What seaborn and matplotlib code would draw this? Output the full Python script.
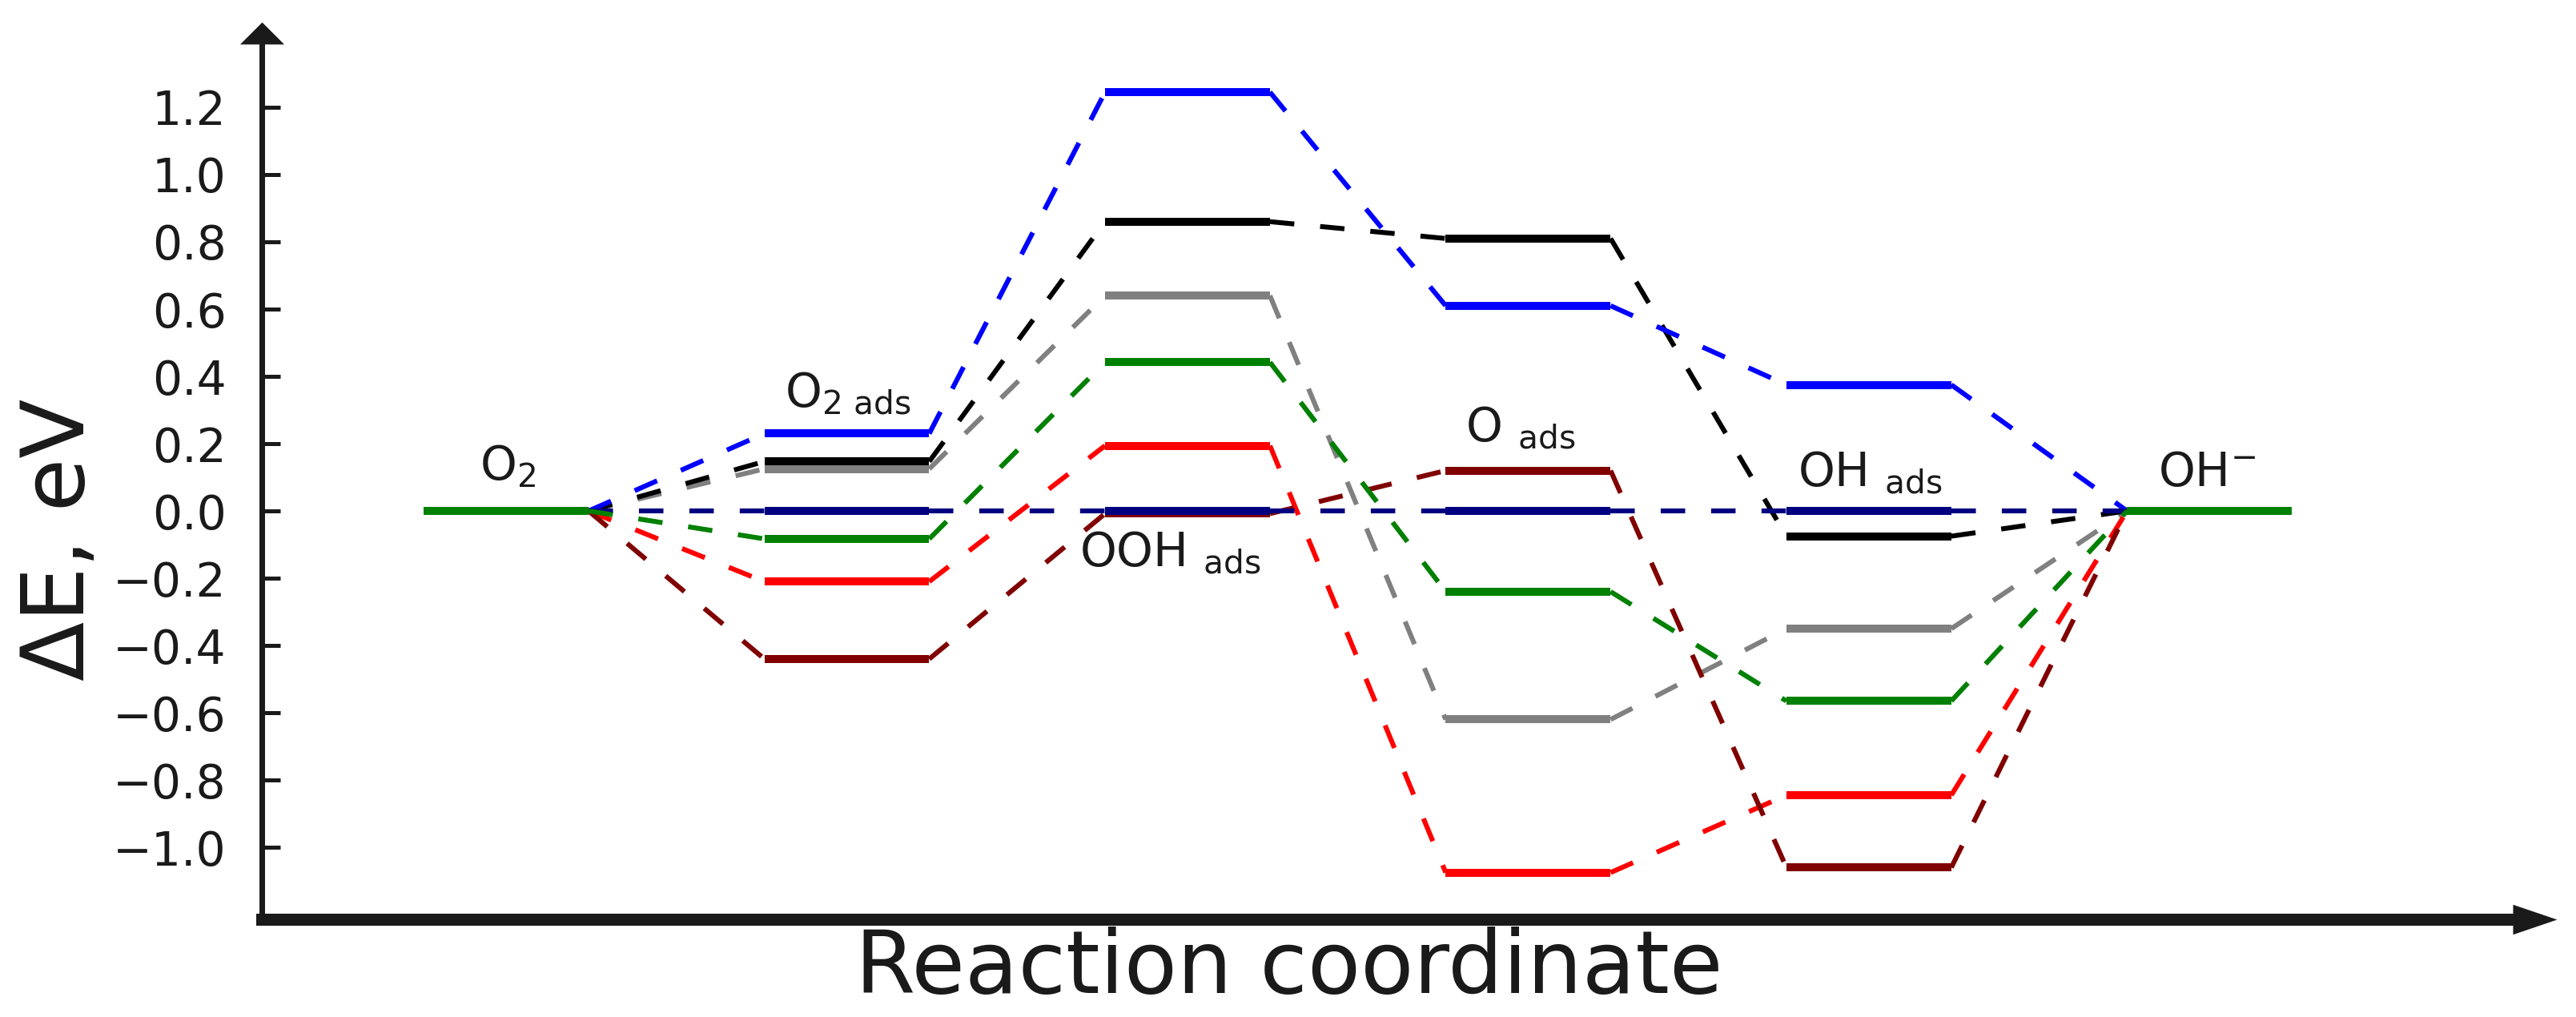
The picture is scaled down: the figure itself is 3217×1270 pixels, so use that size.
import pandas as pd
import seaborn as sns
import matplotlib.pyplot as plt

# Data: free energy of each intermediate for every surface (eV)
stage_labels = ["O$_2$", "O$_{2\\ ads}$", "OOH $_{ads}$", "O $_{ads}$", "OH $_{ads}$", "OH$^{-}$"]
energy_gray = [0, 0.125, 0.64, -0.62, -0.35, 0]
energy_black = [0, 0.147, 0.86, 0.81, -0.075, 0]
energy_blue = [0, 0.23, 1.245, 0.61, 0.375, 0]
energy_red = [0, -0.21, 0.194, -1.075, -0.845, 0]
energy_darkred = [0, -0.44, -0.008, 0.12, -1.06, 0]
energy_navy = [0, 0, 0, 0, 0, 0]
energy_green = [0, -0.083, 0.442, -0.24, -0.565, 0]
series_names = ["gray", "black", "blue", "red", "darkred", "navy", "green"]
line_colors = ["#808080", "#000000", "#0000ff", "#ff0000", "#800000", "#000080", "#008000"]
y_ticks = [-1.0, -0.8, -0.6, -0.4, -0.2, 0.0, 0.2, 0.4, 0.6, 0.8, 1.0, 1.2]

energies = dict(zip(series_names, [energy_gray, energy_black, energy_blue, energy_red,
                                   energy_darkred, energy_navy, energy_green]))
palette = dict(zip(series_names, line_colors))

# Build level segments and dashed connectors
half = 0.242
level_rows, link_rows = [], []
for name, vals in energies.items():
    for i, v in enumerate(vals):
        level_rows.append((name, f"{name}{i}", i - half, v))
        level_rows.append((name, f"{name}{i}", i + half, v))
    for i in range(len(vals) - 1):
        link_rows.append((name, f"{name}{i}", i + half, vals[i]))
        link_rows.append((name, f"{name}{i}", i + 1 - half, vals[i + 1]))
df_levels = pd.DataFrame(level_rows, columns=["series", "seg", "x", "energy"])
df_links = pd.DataFrame(link_rows, columns=["series", "seg", "x", "energy"])

sns.set_theme(style="white", rc={"text.color": "k", "axes.labelcolor": "k",
                                 "xtick.color": "k", "ytick.color": "k",
                                 "axes.edgecolor": "k"})
plt.rcParams["font.family"] = ["DejaVu Sans"]
plt.rcParams["mathtext.default"] = "regular"

fig = plt.figure(figsize=(16.085, 6.35), dpi=200)
ax = fig.add_axes([0.10165, 0.09606, 0.87379, 0.86063])

sns.lineplot(data=df_links, x="x", y="energy", hue="series", units="seg", estimator=None,
             hue_order=series_names, palette=palette, sort=False, legend=False, ax=ax,
             lw=2.2, linestyle=(0, (5.0, 5.3)))
sns.lineplot(data=df_levels, x="x", y="energy", hue="series", units="seg", estimator=None,
             hue_order=series_names, palette=palette, sort=False, legend=False, ax=ax,
             lw=3.6, solid_capstyle="butt")

# Stage labels
label_dx = [0.005, 0.003, -0.05, -0.024, 0.005, -0.007]
label_y = [0.093, 0.31, -0.165, 0.207, 0.074, 0.074]
for i, lab in enumerate(stage_labels):
    ax.text(i + label_dx[i], label_y[i], lab, fontsize=21, ha="center", va="baseline",
            color="k")

ax.set_xlim(-0.717, 5.89)
ax.set_ylim(-1.214, 1.388)
ax.set_xticks([])
ax.set_yticks(y_ticks)
ax.set_yticklabels([f"{t:.1f}".replace("-", "\u2212") for t in y_ticks])
ax.tick_params(axis="y", direction="in", length=8.3, width=1.8, pad=16, labelsize=21,
               left=True, color="k", labelcolor="k")
sns.despine(ax=ax)
ax.spines["left"].set_linewidth(2.5)
ax.spines["bottom"].set_linewidth(5.4)

# Arrow heads on the axes
ax.plot([1], [0], transform=ax.transAxes, marker=[(0, -0.34), (0, 0.34), (1, 0)],
        ms=39.6, color="k", mew=0, clip_on=False)
ax.plot([0], [1], transform=ax.transAxes, marker=[(-1, 0), (1, 0), (0, 1)],
        ms=19.8, color="k", mew=0, clip_on=False)

ax.set_xlabel("Reaction coordinate", fontsize=39, va="top", color="k")
ax.xaxis.set_label_coords(0.4564, -0.008)
ax.set_ylabel("\u0394E, eV", fontsize=39, color="k")
ax.yaxis.set_label_coords(-0.0708, 0.4337)

fig.savefig("out.png", dpi=200)
